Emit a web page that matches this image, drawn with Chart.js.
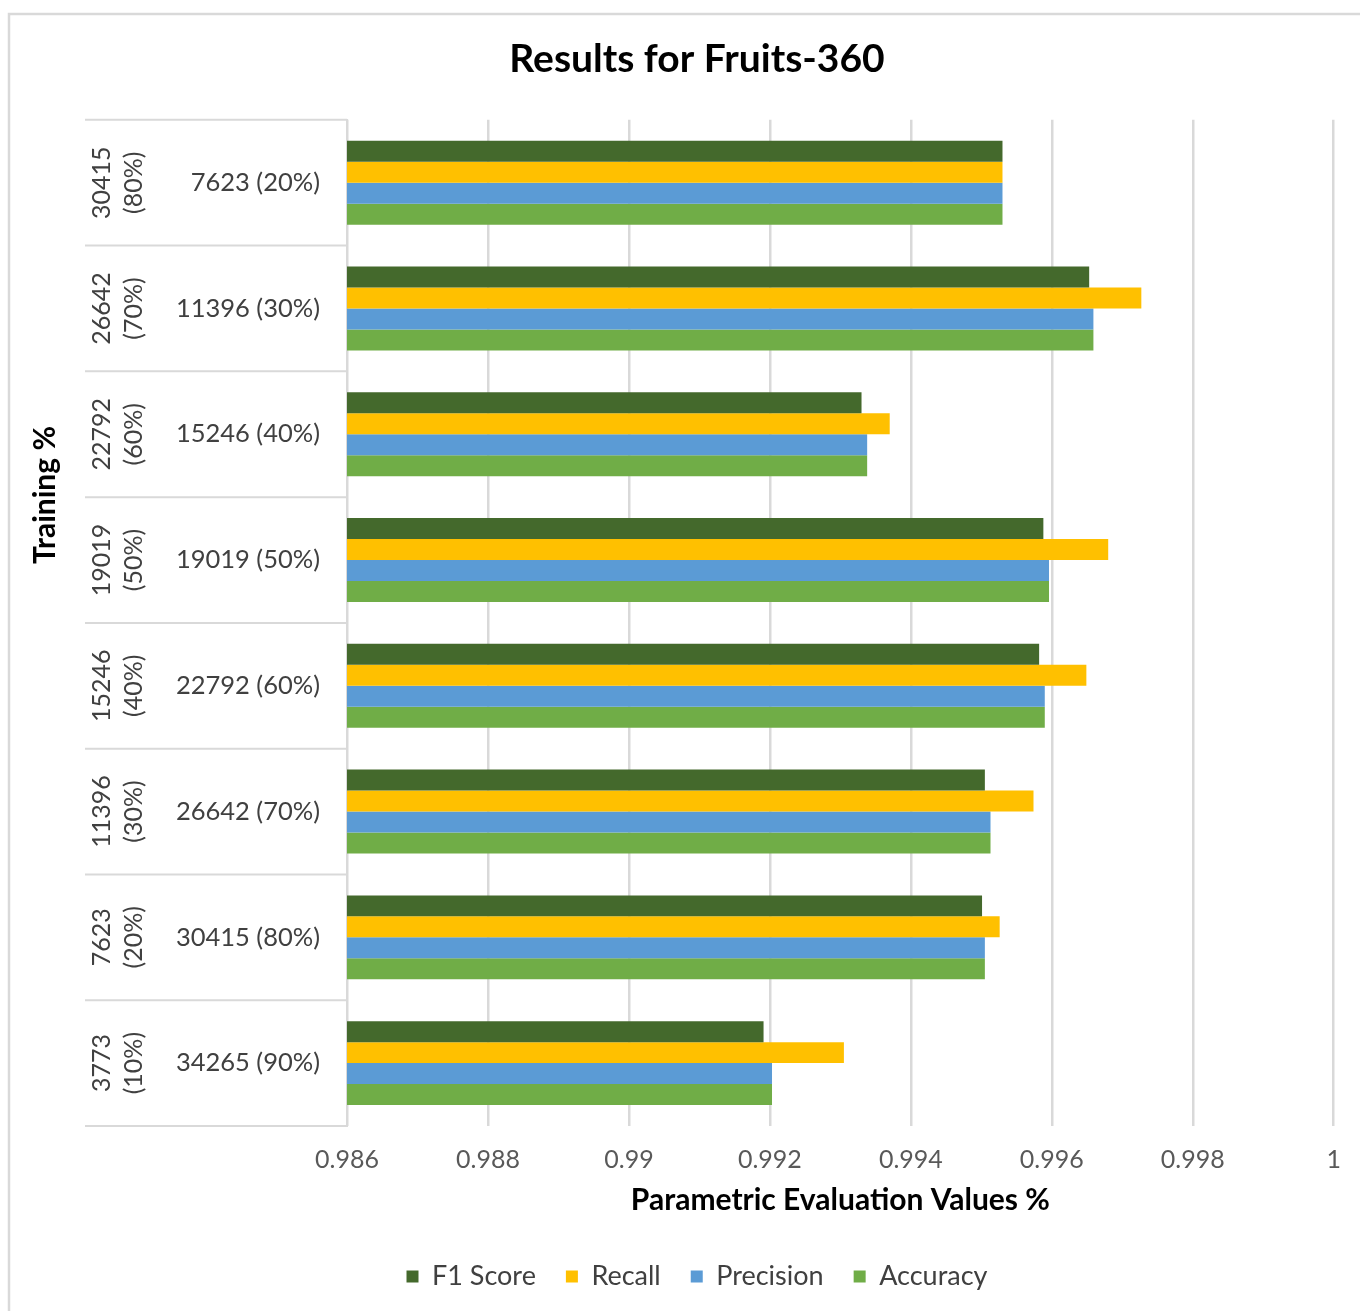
<!DOCTYPE html>
<html>
<head>
<meta charset="utf-8">
<title>Results for Fruits-360</title>
<script src="https://cdn.jsdelivr.net/npm/chart.js@4.4.1/dist/chart.umd.min.js"></script>
<style>
    body { margin: 0; background: #fff; }
    canvas { display: block; }
</style>
</head>
<body>
<canvas id="fruitsChart" width="1360" height="1311"></canvas>
<script>
// testing split (inner labels) and training split (outer labels), top to bottom
const testLabels = ['7623 (20%)', '11396 (30%)', '15246 (40%)', '19019 (50%)', '22792 (60%)', '26642 (70%)', '30415 (80%)', '34265 (90%)'];
const trainLabels = [['30415', '(80%)'], ['26642', '(70%)'], ['22792', '(60%)'], ['19019', '(50%)'], ['15246', '(40%)'], ['11396', '(30%)'], ['7623', '(20%)'], ['3773', '(10%)']];
const xTicks = [0.986, 0.988, 0.99, 0.992, 0.994, 0.996, 0.998, 1];

const f1Score = [0.9953, 0.99653, 0.9933, 0.99588, 0.99582, 0.99505, 0.99501, 0.99191];
const recall = [0.9953, 0.99727, 0.9937, 0.9968, 0.99649, 0.99574, 0.99526, 0.99305];
const precision = [0.9953, 0.99659, 0.99338, 0.99596, 0.9959, 0.99513, 0.99505, 0.99203];
const accuracy = [0.9953, 0.99659, 0.99338, 0.99596, 0.9959, 0.99513, 0.99505, 0.99203];

const font = 'Lato';
const lineColor = '#d9d9d9';

// frame, label table lines, rotated training labels and the y title
const tableLines = {
    id: 'tableLines',
    beforeDraw(chart) {
        const ctx = chart.ctx;
        ctx.save();
        ctx.fillStyle = '#fff';
        ctx.fillRect(0, 0, chart.width, chart.height);
        ctx.strokeStyle = lineColor;
        ctx.lineWidth = 2.5;
        ctx.beginPath();
        ctx.moveTo(9, chart.height);
        ctx.lineTo(9, 14);
        ctx.lineTo(chart.width, 14);
        ctx.stroke();
        ctx.restore();
    },
    afterDraw(chart) {
        const ctx = chart.ctx;
        const y = chart.scales.y;
        const left = 85;
        const right = chart.chartArea.left;
        ctx.save();
        ctx.strokeStyle = lineColor;
        ctx.lineWidth = 2;
        const n = testLabels.length;
        for (let i = 0; i <= n; i++) {
            let py;
            if (i === 0) py = chart.chartArea.top;
            else if (i === n) py = chart.chartArea.bottom;
            else py = (y.getPixelForValue(i - 1) + y.getPixelForValue(i)) / 2;
            ctx.beginPath();
            ctx.moveTo(left, py);
            ctx.lineTo(right, py);
            ctx.stroke();
        }

        ctx.fillStyle = '#404040';
        ctx.font = `25px ${font}`;
        ctx.textAlign = 'center';
        ctx.textBaseline = 'middle';
        trainLabels.forEach((lines, i) => {
            ctx.save();
            ctx.translate(118, y.getPixelForValue(i));
            ctx.rotate(-Math.PI / 2);
            ctx.fillText(lines[0], 0, -16);
            ctx.fillText(lines[1], 0, 16);
            ctx.restore();
        });

        ctx.save();
        ctx.translate(45, 495);
        ctx.rotate(-Math.PI / 2);
        ctx.fillStyle = '#000';
        ctx.font = `bold 30px ${font}`;
        ctx.fillText('Training %', 0, 0);
        ctx.restore();
        ctx.restore();
    }
};

const chartElement = document.getElementById('fruitsChart').getContext('2d');
const fruitsChart = new Chart(chartElement, {
    type: 'bar',
    data: {
        labels: testLabels,
        datasets: [
            { label: 'F1 Score', data: f1Score, backgroundColor: '#44692c' },
            { label: 'Recall', data: recall, backgroundColor: '#ffc000' },
            { label: 'Precision', data: precision, backgroundColor: '#5b9bd5' },
            { label: 'Accuracy', data: accuracy, backgroundColor: '#70ad47' }
        ]
    },
    options: {
        indexAxis: 'y',
        responsive: false,
        animation: false,
        devicePixelRatio: 1,
        borderWidth: 0,
        categoryPercentage: 0.667,
        barPercentage: 1.0,
        layout: {
            padding: { left: 60, right: 26, top: 36, bottom: 11 }
        },
        scales: {
            x: {
                min: 0.986,
                max: 1,
                afterBuildTicks: scale => { scale.ticks = xTicks.map(v => ({ value: v })); },
                afterFit: scale => { scale.height = 107; },
                grid: { color: lineColor, lineWidth: 2.5, drawTicks: false },
                border: { display: false },
                ticks: {
                    padding: 19,
                    color: '#595959',
                    font: { family: font, size: 25 },
                    callback: v => String(v)
                },
                title: {
                    display: true,
                    text: 'Parametric Evaluation Values %',
                    color: '#000',
                    font: { family: font, size: 30, weight: 'bold' },
                    padding: { top: 0, bottom: 15 }
                }
            },
            y: {
                afterFit: scale => { scale.width = 287; },
                grid: { display: false, drawTicks: false },
                border: { display: true, color: lineColor, width: 2 },
                ticks: {
                    padding: 27,
                    color: '#404040',
                    font: { family: font, size: 25.5 }
                }
            }
        },
        plugins: {
            title: {
                display: true,
                text: 'Results for Fruits-360',
                color: '#000',
                font: { family: font, size: 39, weight: 'bold' },
                padding: { top: 0, bottom: 37 }
            },
            legend: {
                position: 'bottom',
                labels: {
                    boxWidth: 12,
                    boxHeight: 12,
                    padding: 30,
                    color: '#404040',
                    font: { family: font, size: 27 }
                }
            },
            tooltip: { enabled: false }
        }
    },
    plugins: [tableLines]
});
</script>
</body>
</html>
